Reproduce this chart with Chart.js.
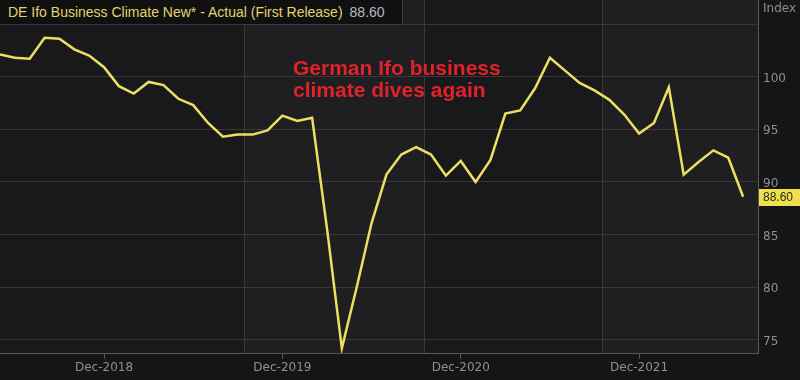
<!DOCTYPE html>
<html><head><meta charset="utf-8">
<script src="https://cdn.jsdelivr.net/npm/chart.js@4/dist/chart.umd.min.js"></script>
<style>
html,body{margin:0;padding:0;background:#151517;}
#wrap{position:relative;width:800px;height:380px;overflow:hidden;background:#151517;}
canvas{position:absolute;left:0;top:0;}
#legend{position:absolute;left:0;top:0;width:402px;height:24px;background:#101011;border-right:1px solid #3a3a3c;border-bottom:1px solid #3a3a3c;font:14px "Liberation Sans",Arial,sans-serif;line-height:24px;white-space:nowrap;}
#legend .name{color:#e3d36a;margin-left:8px;}
#legend .val{color:#b8b8c0;margin-left:7px;}
#note{position:absolute;left:293px;top:57px;color:#e0222b;font:bold 21px "Liberation Sans",Arial,sans-serif;line-height:22px;}
#unit{position:absolute;left:763px;top:1px;color:#8e8e92;font:12px "DejaVu Sans",sans-serif;}
</style></head><body>
<div id="wrap"><canvas id="c" width="800" height="380"></canvas>
<div id="legend"><span class="name">DE Ifo Business Climate New* - Actual (First Release)</span><span class="val">88.60</span></div>
<div id="note">German Ifo business<br>climate dives again</div>
<div id="unit">Index</div>
</div>
<script>
// Monthly categories (last one is an empty slot at the right edge of the plot)
const months = [
 "May-2018","Jun-2018","Jul-2018","Aug-2018","Sep-2018","Oct-2018","Nov-2018","Dec-2018",
 "Jan-2019","Feb-2019","Mar-2019","Apr-2019","May-2019","Jun-2019","Jul-2019","Aug-2019","Sep-2019","Oct-2019","Nov-2019","Dec-2019",
 "Jan-2020","Feb-2020","Mar-2020","Apr-2020","May-2020","Jun-2020","Jul-2020","Aug-2020","Sep-2020","Oct-2020","Nov-2020","Dec-2020",
 "Jan-2021","Feb-2021","Mar-2021","Apr-2021","May-2021","Jun-2021","Jul-2021","Aug-2021","Sep-2021","Oct-2021","Nov-2021","Dec-2021",
 "Jan-2022","Feb-2022","Mar-2022","Apr-2022","May-2022","Jun-2022","Jul-2022","Aug-2022"
];
// Ifo business climate index, first release
const ifoValues = [
 102.1,101.8,101.7,103.7,103.6,102.6,102.0,100.9,
 99.1,98.4,99.5,99.2,97.9,97.3,95.6,94.3,94.5,94.5,94.9,96.3,
 95.8,96.1,85.6,74.2,80.0,86.1,90.7,92.6,93.3,92.6,90.6,92.0,
 90.0,92.1,96.5,96.8,98.9,101.8,100.6,99.4,98.7,97.8,96.4,94.6,
 95.6,99.0,90.7,91.9,93.0,92.3,88.6,null
];
const xTickLabels = ["Dec-2018","Dec-2019","Dec-2020","Dec-2021"];
const yGridValues = [75,80,85,90,95,100,105];
const yTickLabels = [75,80,85,90,95,100];
const lastValue = 88.6;
// shaded band boundaries, in month-index units
const bandEdges = [16.45, 28.5, 40.5];

const bandsPlugin = {
  id:'bands',
  beforeDraw(chart){
    const {ctx, chartArea:a, scales:{x}} = chart;
    ctx.save();
    ctx.fillStyle = '#19191b';
    ctx.fillRect(a.left, a.top, a.right-a.left, a.bottom-a.top);
    const px = bandEdges.map(v => x.getPixelForValue(v));
    ctx.fillStyle = '#1f1f22';
    ctx.fillRect(px[0], a.top, px[1]-px[0], a.bottom-a.top);
    ctx.fillRect(px[2], a.top, a.right-px[2], a.bottom-a.top);
    ctx.strokeStyle = '#3a3a3d'; ctx.lineWidth = 1;
    px.forEach(p => { ctx.beginPath(); ctx.moveTo(Math.round(p)+0.5, a.top); ctx.lineTo(Math.round(p)+0.5, a.bottom); ctx.stroke(); });
    ctx.restore();
  },
  afterDraw(chart){
    const {ctx, chartArea:a, scales:{y}} = chart;
    const yy = y.getPixelForValue(lastValue);
    ctx.save();
    ctx.fillStyle = '#eee04c';
    ctx.fillRect(a.right+1, Math.round(yy)-8, 800-a.right-1, 17);
    ctx.fillStyle = '#2a2a20';
    ctx.font = '12px "Liberation Sans", Arial, sans-serif';
    ctx.textAlign = 'left'; ctx.textBaseline = 'middle';
    ctx.fillText(lastValue.toFixed(2), a.right+5, Math.round(yy)+1);
    ctx.restore();
  }
};

new Chart(document.getElementById('c'), {
  type:'line',
  data:{ labels: months, datasets:[{ data: ifoValues, borderColor:'#ecdf62', borderWidth:2.5, pointRadius:0, tension:0, fill:false, spanGaps:false }]},
  options:{
    responsive:false, animation:false, events:[],
    layout:{padding:0},
    plugins:{legend:{display:false}, tooltip:{enabled:false}},
    scales:{
      x:{
        type:'category', offset:false,
        afterBuildTicks(s){ s.ticks = s.ticks.filter(t => xTickLabels.includes(months[t.value])); },
        afterFit(s){ s.height = 27; s.paddingLeft = 0; s.paddingRight = 0; },
        ticks:{ autoSkip:false, maxRotation:0, color:'#8f8f93', font:{family:'"DejaVu Sans", sans-serif', size:12}, padding:2,
          callback(v){ return months[v]; } },
        grid:{ drawOnChartArea:false, drawTicks:true, tickLength:6, color:'#58585c' },
        border:{ display:true, color:'#58585c', width:1 }
      },
      y:{
        position:'right', min:73.76, max:107.28,
        afterBuildTicks(s){ s.ticks = yGridValues.map(v => ({value:v})); },
        afterFit(s){ s.width = 42; s.paddingTop = 0; s.paddingBottom = 0; },
        ticks:{ color:'#8f8f93', font:{family:'"DejaVu Sans", sans-serif', size:12}, padding:5, labelOffset:2,
          callback(v){ return yTickLabels.includes(v) ? String(v) : ''; } },
        grid:{ drawTicks:false, color:'#38383b' },
        border:{ display:true, color:'#58585c', width:1 }
      }
    }
  },
  plugins:[bandsPlugin]
});
</script>
</body></html>
